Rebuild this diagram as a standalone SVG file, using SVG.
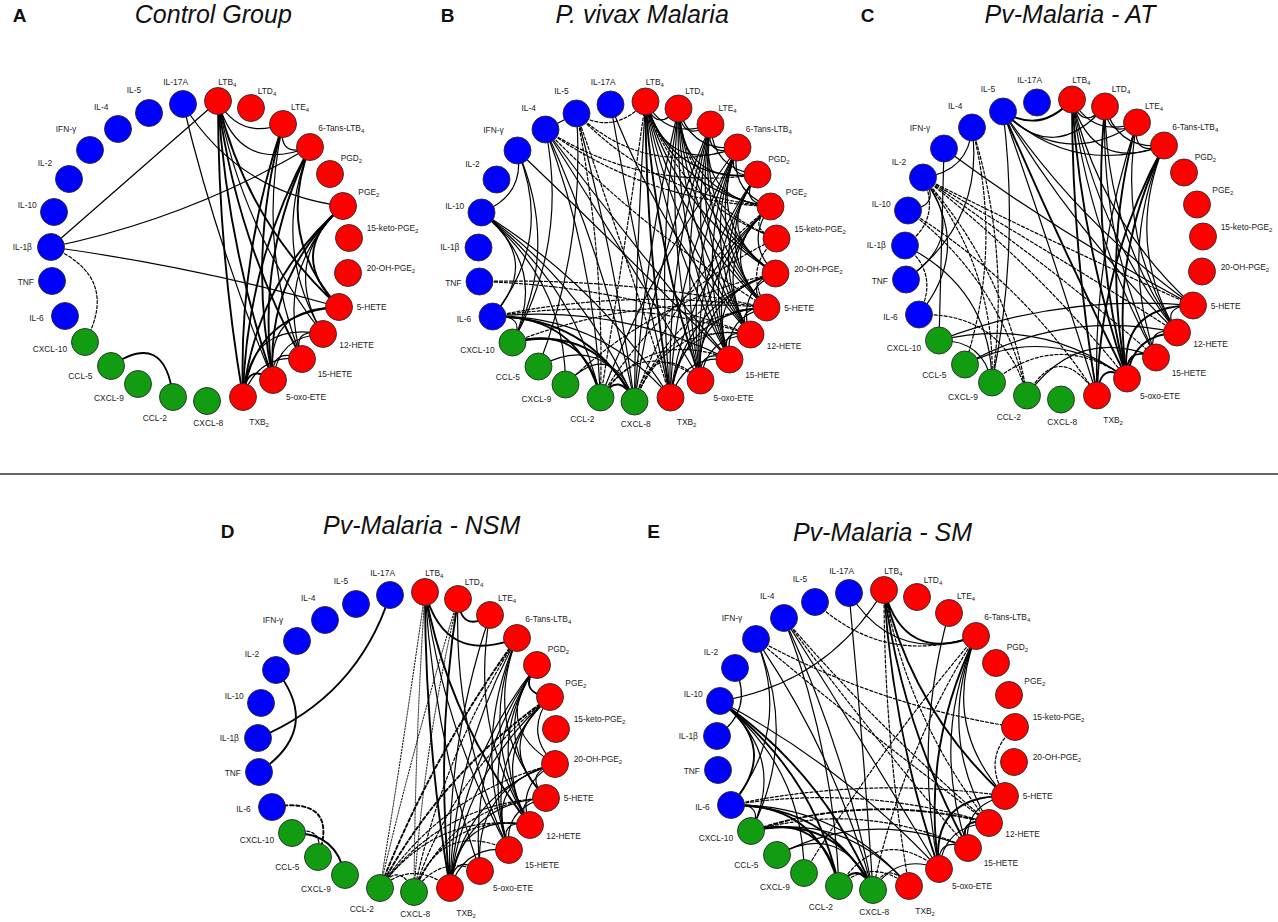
<svg xmlns="http://www.w3.org/2000/svg" width="1278" height="922" viewBox="0 0 1278 922">
<style>
.n circle{stroke:#2a2a2a;stroke-width:0.9}
.b circle{fill:#0000ff}
.r circle{fill:#ff0000}
.g circle{fill:#119c11}
.n text{font-family:"Liberation Sans",Arial,sans-serif;font-size:8.4px;fill:#222}
.s{font-size:6px}
.e path{fill:none;stroke:#000;stroke-width:1.2;stroke-linecap:round}
.e .t{stroke-width:1.9}
.e .d{stroke-dasharray:3 2}
.e .dot{stroke-dasharray:1.4 1.6;stroke-width:1}
.e .dt{stroke-dasharray:3.5 2.5;stroke-width:1.9}
.ti{font-family:"Liberation Sans",Arial,sans-serif;font-size:25px;font-style:italic;fill:#111;text-anchor:middle}
.lt{font-family:"Liberation Sans",Arial,sans-serif;font-size:19px;font-weight:bold;fill:#111}
</style>
<rect width="1278" height="922" fill="#fff"/>
<g id="titles">
<text class="lt" x="12.7" y="21.7">A</text>
<text class="ti" x="213.3" y="23.3">Control Group</text>
<text class="lt" x="440.7" y="21.7">B</text>
<text class="ti" x="642.2" y="23.3">P. vivax Malaria</text>
<text class="lt" x="860.7" y="21.7">C</text>
<text class="ti" x="1070" y="23.3">Pv-Malaria - AT</text>
<text class="lt" x="220.7" y="537.7">D</text>
<text class="ti" x="421.7" y="534">Pv-Malaria - NSM</text>
<text class="lt" x="647.3" y="537.7">E</text>
<text class="ti" x="882.5" y="541">Pv-Malaria - SM</text>
</g>
<line id="separator" x1="0" y1="474" x2="1278" y2="474" stroke="#333" stroke-width="1.6"/>

<g id="panelA">
<g id="A-connectors" class="e">
<path d="M51 247L218 101"/>
<path d="M51 247Q188 219 310 147"/>
<path d="M51 247Q197 267 339 307"/>
<path class="d" d="M51 247Q121 277 85 342"/>
<path d="M183 104Q238 193 343 206"/>
<path d="M183 104Q217 246 273 380"/>
<path d="M218 101Q240 140 283 124"/>
<path d="M218 101Q238 175 310 147"/>
<path class="t" d="M218 101Q218 250 243 397"/>
<path class="t" d="M218 101Q227 245 273 380"/>
<path class="t" d="M218 101Q236 238 302 359"/>
<path d="M218 101Q242 231 323 334"/>
<path class="t" d="M218 101Q247 223 339 307"/>
<path d="M283 124Q277 159 310 147"/>
<path class="t" d="M283 124Q238 257 243 397"/>
<path class="t" d="M283 124Q247 252 273 380"/>
<path d="M283 124Q256 245 302 359"/>
<path class="t" d="M310 147Q246 264 243 397"/>
<path class="t" d="M310 147Q255 259 273 380"/>
<path d="M310 147Q270 245 323 334"/>
<path class="t" d="M310 147Q275 237 339 307"/>
<path class="t" d="M343 206Q256 281 243 397"/>
<path class="t" d="M343 206Q265 276 273 380"/>
<path d="M343 206Q274 270 302 359"/>
<path d="M343 206Q280 262 323 334"/>
<path class="t" d="M343 206Q285 254 339 307"/>
<path class="t" d="M339 307Q255 312 243 397"/>
<path d="M339 307Q264 307 273 380"/>
<path d="M323 334Q250 320 243 397"/>
<path d="M323 334Q290 327 302 359"/>
<path d="M323 334Q278 336 273 380"/>
<path d="M302 359Q258 353 243 397"/>
<path d="M302 359Q270 346 273 380"/>
<path class="t" d="M273 380Q246 361 243 397"/>
<path class="t" d="M111 366Q165 329 173 397"/>
</g>
<g id="A-IL17A" class="n b"><circle cx="183" cy="104" r="13.5"/><text x="163.3" y="84.7">IL-17A</text></g>
<g id="A-LTB4" class="n r"><circle cx="218" cy="101" r="13.5"/><text x="218.3" y="84.7">LTB<tspan class="s" dy="2">4</tspan></text></g>
<g id="A-LTD4" class="n r"><circle cx="251" cy="108" r="13.5"/><text x="257.7" y="93.7">LTD<tspan class="s" dy="2">4</tspan></text></g>
<g id="A-LTE4" class="n r"><circle cx="283" cy="124" r="13.5"/><text x="291" y="110.3">LTE<tspan class="s" dy="2">4</tspan></text></g>
<g id="A-6TansLTB4" class="n r"><circle cx="310" cy="147" r="13.5"/><text x="318.3" y="131.3">6-Tans-LTB<tspan class="s" dy="2">4</tspan></text></g>
<g id="A-PGD2" class="n r"><circle cx="330" cy="174" r="13.5"/><text x="340.7" y="161.3">PGD<tspan class="s" dy="2">2</tspan></text></g>
<g id="A-PGE2" class="n r"><circle cx="343" cy="206" r="13.5"/><text x="358.3" y="194.7">PGE<tspan class="s" dy="2">2</tspan></text></g>
<g id="A-15ketoPGE2" class="n r"><circle cx="349" cy="238" r="13.5"/><text x="366.7" y="231.3">15-keto-PGE<tspan class="s" dy="2">2</tspan></text></g>
<g id="A-20OHPGE2" class="n r"><circle cx="348" cy="273" r="13.5"/><text x="366.7" y="271.3">20-OH-PGE<tspan class="s" dy="2">2</tspan></text></g>
<g id="A-5HETE" class="n r"><circle cx="339" cy="307" r="13.5"/><text x="356.7" y="310.3">5-HETE</text></g>
<g id="A-12HETE" class="n r"><circle cx="323" cy="334" r="13.5"/><text x="339.3" y="348">12-HETE</text></g>
<g id="A-15HETE" class="n r"><circle cx="302" cy="359" r="13.5"/><text x="317.7" y="377">15-HETE</text></g>
<g id="A-5oxoETE" class="n r"><circle cx="273" cy="380" r="13.5"/><text x="286" y="400.3">5-oxo-ETE</text></g>
<g id="A-TXB2" class="n r"><circle cx="243" cy="397" r="13.5"/><text x="249.3" y="424.7">TXB<tspan class="s" dy="2">2</tspan></text></g>
<g id="A-CXCL8" class="n g"><circle cx="207" cy="401" r="13.5"/><text x="193.3" y="426.3">CXCL-8</text></g>
<g id="A-CCL2" class="n g"><circle cx="173" cy="397" r="13.5"/><text x="142.7" y="421.3">CCL-2</text></g>
<g id="A-CXCL9" class="n g"><circle cx="138" cy="384" r="13.5"/><text x="94" y="401.3">CXCL-9</text></g>
<g id="A-CCL5" class="n g"><circle cx="111" cy="366" r="13.5"/><text x="68.3" y="379">CCL-5</text></g>
<g id="A-CXCL10" class="n g"><circle cx="85" cy="342" r="13.5"/><text x="32.7" y="352.3">CXCL-10</text></g>
<g id="A-IL6" class="n b"><circle cx="65" cy="316" r="13.5"/><text x="29.3" y="321.3">IL-6</text></g>
<g id="A-TNF" class="n b"><circle cx="52" cy="281" r="13.5"/><text x="17.7" y="285.3">TNF</text></g>
<g id="A-IL1b" class="n b"><circle cx="51" cy="247" r="13.5"/><text x="12.7" y="249.7">IL-1β</text></g>
<g id="A-IL10" class="n b"><circle cx="54" cy="212" r="13.5"/><text x="17.7" y="208.3">IL-10</text></g>
<g id="A-IL2" class="n b"><circle cx="69" cy="179" r="13.5"/><text x="37.7" y="166.3">IL-2</text></g>
<g id="A-IFNg" class="n b"><circle cx="90" cy="150" r="13.5"/><text x="55.7" y="132">IFN-γ</text></g>
<g id="A-IL4" class="n b"><circle cx="118" cy="129" r="13.5"/><text x="94" y="110.3">IL-4</text></g>
<g id="A-IL5" class="n b"><circle cx="149" cy="113" r="13.5"/><text x="126.7" y="93">IL-5</text></g>
</g>

<g id="panelB" transform="translate(427.5,0.5)">
<g id="B-connectors" class="e">
<path d="M149 113L118 129"/>
<path d="M149 113Q158 244 111 366"/>
<path d="M149 113Q187 255 207 401"/>
<path class="d" d="M149 113Q187 136 218 101"/>
<path class="d" d="M149 113Q218 178 310 147"/>
<path class="d" d="M149 113Q228 196 343 206"/>
<path class="d" d="M149 113Q177 253 173 397"/>
<path class="d" d="M149 113Q198 253 243 397"/>
<path d="M118 129Q141 242 85 342"/>
<path d="M118 129Q167 258 173 397"/>
<path d="M118 129Q178 259 207 401"/>
<path d="M118 129Q197 253 273 380"/>
<path d="M118 129Q206 247 302 359"/>
<path class="d" d="M118 129Q214 191 330 174"/>
<path class="d" d="M118 129Q218 201 343 206"/>
<path class="d" d="M118 129Q217 231 339 307"/>
<path d="M90 150Q98 195 54 212"/>
<path d="M90 150Q133 248 85 342"/>
<path d="M90 150Q127 240 65 316"/>
<path d="M90 150Q198 253 302 359"/>
<path d="M54 212Q122 267 85 342"/>
<path d="M54 212Q116 259 65 316"/>
<path d="M54 212Q148 283 173 397"/>
<path d="M54 212Q158 284 207 401"/>
<path d="M54 212Q169 283 243 397"/>
<path d="M54 212Q138 279 138 384"/>
<path class="d" d="M52 281Q193 285 323 334"/>
<path class="d" d="M52 281Q197 277 339 307"/>
<path class="t" d="M65 316Q162 316 207 401"/>
<path class="t" d="M65 316Q151 314 173 397"/>
<path d="M65 316Q172 314 243 397"/>
<path d="M65 316Q190 303 302 359"/>
<path class="d" d="M65 316Q196 295 323 334"/>
<path class="d" d="M65 316Q201 287 339 307"/>
<path d="M65 316Q100 313 85 342"/>
<path class="t" d="M85 342Q157 322 173 397"/>
<path class="t" d="M85 342Q168 323 207 401"/>
<path class="d" d="M85 342Q207 295 339 307"/>
<path d="M111 366Q175 331 207 401"/>
<path d="M138 384Q184 336 207 401"/>
<path class="t" d="M173 397Q192 369 207 401"/>
<path class="d" d="M207 401Q239 321 323 334"/>
<path class="d" d="M207 401Q244 313 339 307"/>
<path class="d" d="M207 401Q247 303 348 273"/>
<path class="d" d="M207 401Q245 283 343 206"/>
<path d="M207 401Q227 258 283 124"/>
<path d="M207 401Q217 253 251 108"/>
<path d="M207 401Q208 251 218 101"/>
<path class="d" d="M207 401Q224 335 273 380"/>
<path class="d" d="M173 397Q237 291 349 238"/>
<path class="d" d="M173 397Q223 327 302 359"/>
<path d="M173 397Q225 264 310 147"/>
<path class="d" d="M173 397Q197 250 218 101"/>
<path d="M183 104Q232 232 323 334"/>
<path d="M183 104Q208 251 243 397"/>
<path class="d" d="M138 384Q226 298 348 273"/>
<path d="M218 101Q228 134 251 108"/>
<path d="M218 101Q240 140 283 124"/>
<path d="M218 101Q238 175 310 147"/>
<path d="M218 101Q244 183 330 174"/>
<path d="M218 101Q248 193 343 206"/>
<path d="M218 101Q250 213 348 273"/>
<path d="M218 101Q247 223 339 307"/>
<path d="M218 101Q242 231 323 334"/>
<path d="M218 101Q236 238 302 359"/>
<path class="t" d="M218 101Q227 245 273 380"/>
<path class="t" d="M218 101Q218 250 243 397"/>
<path d="M251 108Q254 143 283 124"/>
<path d="M251 108Q264 152 310 147"/>
<path d="M251 108Q254 185 330 174"/>
<path d="M251 108Q258 195 343 206"/>
<path d="M251 108Q260 215 348 273"/>
<path d="M251 108Q257 225 339 307"/>
<path d="M251 108Q252 233 323 334"/>
<path d="M251 108Q246 241 302 359"/>
<path d="M251 108Q237 247 273 380"/>
<path d="M251 108Q228 252 243 397"/>
<path d="M283 124Q277 159 310 147"/>
<path d="M283 124Q285 169 330 174"/>
<path d="M283 124Q268 199 343 206"/>
<path d="M283 124Q269 220 348 273"/>
<path d="M283 124Q267 230 339 307"/>
<path d="M283 124Q262 238 323 334"/>
<path d="M283 124Q256 245 302 359"/>
<path d="M283 124Q247 252 273 380"/>
<path d="M283 124Q238 257 243 397"/>
<path d="M310 147Q296 179 330 174"/>
<path d="M310 147Q301 191 343 206"/>
<path d="M310 147Q277 226 348 273"/>
<path d="M310 147Q275 237 339 307"/>
<path d="M310 147Q270 245 323 334"/>
<path d="M310 147Q264 252 302 359"/>
<path d="M310 147Q255 259 273 380"/>
<path d="M310 147Q246 264 243 397"/>
<path d="M330 174Q309 202 343 206"/>
<path d="M330 174Q283 235 348 273"/>
<path d="M330 174Q281 245 339 307"/>
<path d="M330 174Q276 253 323 334"/>
<path d="M330 174Q270 260 302 359"/>
<path d="M330 174Q261 267 273 380"/>
<path d="M343 206Q316 242 348 273"/>
<path d="M343 206Q285 254 339 307"/>
<path d="M343 206Q280 262 323 334"/>
<path d="M343 206Q274 270 302 359"/>
<path d="M343 206Q265 276 273 380"/>
<path d="M343 206Q256 281 243 397"/>
<path class="d" d="M343 206Q317 228 349 238"/>
<path class="d" d="M349 238Q315 268 339 307"/>
<path class="d" d="M349 238Q260 204 251 108"/>
<path d="M348 273Q315 282 339 307"/>
<path d="M348 273Q308 293 323 334"/>
<path d="M348 273Q275 290 302 359"/>
<path d="M348 273Q266 296 273 380"/>
<path d="M348 273Q257 301 243 397"/>
<path d="M339 307Q305 307 323 334"/>
<path d="M339 307Q296 317 302 359"/>
<path d="M339 307Q264 307 273 380"/>
<path d="M339 307Q255 312 243 397"/>
<path d="M323 334Q290 327 302 359"/>
<path d="M323 334Q278 336 273 380"/>
<path d="M302 359Q270 346 273 380"/>
<path d="M302 359Q258 353 243 397"/>
<path class="d" d="M218 101Q250 202 349 238"/>
<path class="d" d="M243 397Q250 320 323 334"/>
<path class="d" d="M273 380Q214 334 173 397"/>
</g>
<g id="B-IL17A" class="n b"><circle cx="183" cy="104" r="13.5"/><text x="163.3" y="84.7">IL-17A</text></g>
<g id="B-LTB4" class="n r"><circle cx="218" cy="101" r="13.5"/><text x="218.3" y="84.7">LTB<tspan class="s" dy="2">4</tspan></text></g>
<g id="B-LTD4" class="n r"><circle cx="251" cy="108" r="13.5"/><text x="257.7" y="93.7">LTD<tspan class="s" dy="2">4</tspan></text></g>
<g id="B-LTE4" class="n r"><circle cx="283" cy="124" r="13.5"/><text x="291" y="110.3">LTE<tspan class="s" dy="2">4</tspan></text></g>
<g id="B-6TansLTB4" class="n r"><circle cx="310" cy="147" r="13.5"/><text x="318.3" y="131.3">6-Tans-LTB<tspan class="s" dy="2">4</tspan></text></g>
<g id="B-PGD2" class="n r"><circle cx="330" cy="174" r="13.5"/><text x="340.7" y="161.3">PGD<tspan class="s" dy="2">2</tspan></text></g>
<g id="B-PGE2" class="n r"><circle cx="343" cy="206" r="13.5"/><text x="358.3" y="194.7">PGE<tspan class="s" dy="2">2</tspan></text></g>
<g id="B-15ketoPGE2" class="n r"><circle cx="349" cy="238" r="13.5"/><text x="366.7" y="231.3">15-keto-PGE<tspan class="s" dy="2">2</tspan></text></g>
<g id="B-20OHPGE2" class="n r"><circle cx="348" cy="273" r="13.5"/><text x="366.7" y="271.3">20-OH-PGE<tspan class="s" dy="2">2</tspan></text></g>
<g id="B-5HETE" class="n r"><circle cx="339" cy="307" r="13.5"/><text x="356.7" y="310.3">5-HETE</text></g>
<g id="B-12HETE" class="n r"><circle cx="323" cy="334" r="13.5"/><text x="339.3" y="348">12-HETE</text></g>
<g id="B-15HETE" class="n r"><circle cx="302" cy="359" r="13.5"/><text x="317.7" y="377">15-HETE</text></g>
<g id="B-5oxoETE" class="n r"><circle cx="273" cy="380" r="13.5"/><text x="286" y="400.3">5-oxo-ETE</text></g>
<g id="B-TXB2" class="n r"><circle cx="243" cy="397" r="13.5"/><text x="249.3" y="424.7">TXB<tspan class="s" dy="2">2</tspan></text></g>
<g id="B-CXCL8" class="n g"><circle cx="207" cy="401" r="13.5"/><text x="193.3" y="426.3">CXCL-8</text></g>
<g id="B-CCL2" class="n g"><circle cx="173" cy="397" r="13.5"/><text x="142.7" y="421.3">CCL-2</text></g>
<g id="B-CXCL9" class="n g"><circle cx="138" cy="384" r="13.5"/><text x="94" y="401.3">CXCL-9</text></g>
<g id="B-CCL5" class="n g"><circle cx="111" cy="366" r="13.5"/><text x="68.3" y="379">CCL-5</text></g>
<g id="B-CXCL10" class="n g"><circle cx="85" cy="342" r="13.5"/><text x="32.7" y="352.3">CXCL-10</text></g>
<g id="B-IL6" class="n b"><circle cx="65" cy="316" r="13.5"/><text x="29.3" y="321.3">IL-6</text></g>
<g id="B-TNF" class="n b"><circle cx="52" cy="281" r="13.5"/><text x="17.7" y="285.3">TNF</text></g>
<g id="B-IL1b" class="n b"><circle cx="51" cy="247" r="13.5"/><text x="12.7" y="249.7">IL-1β</text></g>
<g id="B-IL10" class="n b"><circle cx="54" cy="212" r="13.5"/><text x="17.7" y="208.3">IL-10</text></g>
<g id="B-IL2" class="n b"><circle cx="69" cy="179" r="13.5"/><text x="37.7" y="166.3">IL-2</text></g>
<g id="B-IFNg" class="n b"><circle cx="90" cy="150" r="13.5"/><text x="55.7" y="132">IFN-γ</text></g>
<g id="B-IL4" class="n b"><circle cx="118" cy="129" r="13.5"/><text x="94" y="110.3">IL-4</text></g>
<g id="B-IL5" class="n b"><circle cx="149" cy="113" r="13.5"/><text x="126.7" y="93">IL-5</text></g>
</g>

<g id="panelC" transform="translate(854,-1.5)">
<g id="C-connectors" class="e">
<path class="t" d="M149 113Q187 136 218 101"/>
<path d="M149 113Q210 172 283 124"/>
<path d="M149 113Q218 178 310 147"/>
<path d="M149 113Q200 167 251 108"/>
<path d="M149 113Q226 226 339 307"/>
<path d="M149 113Q222 235 323 334"/>
<path class="t" d="M149 113Q207 248 273 380"/>
<path d="M149 113Q198 253 243 397"/>
<path d="M149 113Q166 250 138 384"/>
<path d="M118 129Q115 173 69 179"/>
<path class="d" d="M118 129Q149 249 111 366"/>
<path class="d" d="M118 129Q157 254 138 384"/>
<path d="M90 150L85 342"/>
<path d="M90 150Q209 238 339 307"/>
<path d="M69 179Q116 238 52 281"/>
<path d="M69 179Q89 207 54 212"/>
<path d="M69 179Q120 249 65 316"/>
<path class="d" d="M69 179Q202 246 339 307"/>
<path class="d" d="M69 179Q198 254 323 334"/>
<path class="d" d="M69 179Q191 262 302 359"/>
<path class="d" d="M69 179Q183 268 273 380"/>
<path class="d" d="M69 179Q88 221 51 247"/>
<path class="d" d="M69 179Q142 269 138 384"/>
<path class="d" d="M69 179Q153 273 173 397"/>
<path class="d" d="M54 212Q148 283 173 397"/>
<path class="d" d="M54 212Q169 283 243 397"/>
<path d="M51 247Q137 290 138 384"/>
<path class="d" d="M51 247Q86 275 65 316"/>
<path d="M52 281Q131 223 118 129"/>
<path class="d" d="M65 316Q151 314 173 397"/>
<path d="M85 342Q207 295 339 307"/>
<path d="M85 342Q187 317 273 380"/>
<path d="M85 342Q129 341 138 384"/>
<path d="M111 366Q195 324 273 380"/>
<path d="M111 366Q210 310 323 334"/>
<path class="d" d="M138 384Q203 330 273 380"/>
<path d="M173 397Q223 327 302 359"/>
<path class="d" d="M173 397Q205 339 243 397"/>
<path d="M218 101Q228 134 251 108"/>
<path d="M218 101Q240 140 283 124"/>
<path d="M218 101Q238 175 310 147"/>
<path class="t" d="M218 101Q218 250 243 397"/>
<path class="t" d="M218 101Q227 245 273 380"/>
<path d="M218 101Q236 238 302 359"/>
<path d="M218 101Q242 231 323 334"/>
<path d="M218 101Q247 223 339 307"/>
<path d="M251 108Q254 143 283 124"/>
<path d="M251 108Q264 152 310 147"/>
<path class="t" d="M251 108Q237 247 273 380"/>
<path d="M251 108Q252 233 323 334"/>
<path d="M251 108Q246 241 302 359"/>
<path d="M283 124Q277 159 310 147"/>
<path class="t" d="M283 124Q247 252 273 380"/>
<path d="M283 124Q238 257 243 397"/>
<path d="M283 124Q262 238 323 334"/>
<path class="t" d="M310 147Q255 259 273 380"/>
<path d="M310 147Q270 245 323 334"/>
<path d="M310 147Q264 252 302 359"/>
<path class="t" d="M310 147Q246 264 243 397"/>
<path class="t" d="M339 307Q264 307 273 380"/>
<path d="M339 307Q305 307 323 334"/>
<path d="M323 334Q290 327 302 359"/>
<path class="t" d="M323 334Q278 336 273 380"/>
<path class="t" d="M302 359Q270 346 273 380"/>
<path class="t" d="M273 380Q246 361 243 397"/>
</g>
<g id="C-IL17A" class="n b"><circle cx="183" cy="104" r="13.5"/><text x="163.3" y="84.7">IL-17A</text></g>
<g id="C-LTB4" class="n r"><circle cx="218" cy="101" r="13.5"/><text x="218.3" y="84.7">LTB<tspan class="s" dy="2">4</tspan></text></g>
<g id="C-LTD4" class="n r"><circle cx="251" cy="108" r="13.5"/><text x="257.7" y="93.7">LTD<tspan class="s" dy="2">4</tspan></text></g>
<g id="C-LTE4" class="n r"><circle cx="283" cy="124" r="13.5"/><text x="291" y="110.3">LTE<tspan class="s" dy="2">4</tspan></text></g>
<g id="C-6TansLTB4" class="n r"><circle cx="310" cy="147" r="13.5"/><text x="318.3" y="131.3">6-Tans-LTB<tspan class="s" dy="2">4</tspan></text></g>
<g id="C-PGD2" class="n r"><circle cx="330" cy="174" r="13.5"/><text x="340.7" y="161.3">PGD<tspan class="s" dy="2">2</tspan></text></g>
<g id="C-PGE2" class="n r"><circle cx="343" cy="206" r="13.5"/><text x="358.3" y="194.7">PGE<tspan class="s" dy="2">2</tspan></text></g>
<g id="C-15ketoPGE2" class="n r"><circle cx="349" cy="238" r="13.5"/><text x="366.7" y="231.3">15-keto-PGE<tspan class="s" dy="2">2</tspan></text></g>
<g id="C-20OHPGE2" class="n r"><circle cx="348" cy="273" r="13.5"/><text x="366.7" y="271.3">20-OH-PGE<tspan class="s" dy="2">2</tspan></text></g>
<g id="C-5HETE" class="n r"><circle cx="339" cy="307" r="13.5"/><text x="356.7" y="310.3">5-HETE</text></g>
<g id="C-12HETE" class="n r"><circle cx="323" cy="334" r="13.5"/><text x="339.3" y="348">12-HETE</text></g>
<g id="C-15HETE" class="n r"><circle cx="302" cy="359" r="13.5"/><text x="317.7" y="377">15-HETE</text></g>
<g id="C-5oxoETE" class="n r"><circle cx="273" cy="380" r="13.5"/><text x="286" y="400.3">5-oxo-ETE</text></g>
<g id="C-TXB2" class="n r"><circle cx="243" cy="397" r="13.5"/><text x="249.3" y="424.7">TXB<tspan class="s" dy="2">2</tspan></text></g>
<g id="C-CXCL8" class="n g"><circle cx="207" cy="401" r="13.5"/><text x="193.3" y="426.3">CXCL-8</text></g>
<g id="C-CCL2" class="n g"><circle cx="173" cy="397" r="13.5"/><text x="142.7" y="421.3">CCL-2</text></g>
<g id="C-CXCL9" class="n g"><circle cx="138" cy="384" r="13.5"/><text x="94" y="401.3">CXCL-9</text></g>
<g id="C-CCL5" class="n g"><circle cx="111" cy="366" r="13.5"/><text x="68.3" y="379">CCL-5</text></g>
<g id="C-CXCL10" class="n g"><circle cx="85" cy="342" r="13.5"/><text x="32.7" y="352.3">CXCL-10</text></g>
<g id="C-IL6" class="n b"><circle cx="65" cy="316" r="13.5"/><text x="29.3" y="321.3">IL-6</text></g>
<g id="C-TNF" class="n b"><circle cx="52" cy="281" r="13.5"/><text x="17.7" y="285.3">TNF</text></g>
<g id="C-IL1b" class="n b"><circle cx="51" cy="247" r="13.5"/><text x="12.7" y="249.7">IL-1β</text></g>
<g id="C-IL10" class="n b"><circle cx="54" cy="212" r="13.5"/><text x="17.7" y="208.3">IL-10</text></g>
<g id="C-IL2" class="n b"><circle cx="69" cy="179" r="13.5"/><text x="37.7" y="166.3">IL-2</text></g>
<g id="C-IFNg" class="n b"><circle cx="90" cy="150" r="13.5"/><text x="55.7" y="132">IFN-γ</text></g>
<g id="C-IL4" class="n b"><circle cx="118" cy="129" r="13.5"/><text x="94" y="110.3">IL-4</text></g>
<g id="C-IL5" class="n b"><circle cx="149" cy="113" r="13.5"/><text x="126.7" y="93">IL-5</text></g>
</g>

<g id="panelD" transform="translate(207,491)">
<g id="D-connectors" class="e">
<path class="t" d="M183 104Q150 206 51 247"/>
<path class="t" d="M69 179Q116 238 52 281"/>
<path class="dt" d="M65 316Q133 305 111 366"/>
<path class="t" d="M85 342Q129 341 138 384"/>
<path class="d" d="M85 342Q118 333 111 366"/>
<path class="dot" d="M218 101Q197 250 173 397"/>
<path class="dot" d="M218 101Q208 251 207 401"/>
<path class="dot" d="M251 108Q207 252 173 397"/>
<path class="dot" d="M251 108Q217 253 207 401"/>
<path class="t" d="M218 101Q238 175 310 147"/>
<path class="t" d="M218 101Q218 250 243 397"/>
<path d="M218 101Q227 245 273 380"/>
<path d="M218 101Q236 238 302 359"/>
<path class="t" d="M218 101Q242 231 323 334"/>
<path class="t" d="M251 108Q254 143 283 124"/>
<path class="t" d="M251 108Q228 252 243 397"/>
<path d="M251 108Q246 241 302 359"/>
<path d="M283 124Q262 238 323 334"/>
<path d="M283 124Q238 257 243 397"/>
<path class="dt" d="M310 147Q225 264 173 397"/>
<path d="M310 147Q246 264 243 397"/>
<path d="M310 147Q264 252 302 359"/>
<path d="M310 147Q270 245 323 334"/>
<path d="M310 147Q275 237 339 307"/>
<path class="d" d="M310 147Q235 265 207 401"/>
<path class="t" d="M330 174Q309 202 343 206"/>
<path d="M330 174Q252 272 243 397"/>
<path d="M330 174Q261 267 273 380"/>
<path d="M330 174Q270 260 302 359"/>
<path d="M330 174Q276 253 323 334"/>
<path d="M330 174Q281 245 339 307"/>
<path d="M330 174Q283 235 348 273"/>
<path d="M343 206Q316 242 348 273"/>
<path d="M343 206Q285 254 339 307"/>
<path d="M343 206Q280 262 323 334"/>
<path d="M343 206Q274 270 302 359"/>
<path d="M343 206Q256 281 243 397"/>
<path class="dt" d="M343 206Q235 281 173 397"/>
<path class="d" d="M343 206Q245 283 207 401"/>
<path d="M348 273Q315 282 339 307"/>
<path d="M348 273Q308 293 323 334"/>
<path d="M348 273Q275 290 302 359"/>
<path d="M348 273Q257 301 243 397"/>
<path d="M348 273Q266 296 273 380"/>
<path class="d" d="M348 273Q236 301 173 397"/>
<path d="M339 307Q296 317 302 359"/>
<path d="M339 307Q255 312 243 397"/>
<path class="d" d="M339 307Q244 313 207 401"/>
<path class="d" d="M339 307Q234 312 173 397"/>
<path d="M339 307Q305 307 323 334"/>
<path d="M323 334Q290 327 302 359"/>
<path d="M323 334Q250 320 243 397"/>
<path class="d" d="M323 334Q239 321 207 401"/>
<path class="d" d="M323 334Q229 320 173 397"/>
<path d="M302 359Q258 353 243 397"/>
<path class="d" d="M302 359Q233 328 207 401"/>
<path d="M273 380Q246 361 243 397"/>
<path class="d" d="M273 380Q232 363 207 401"/>
<path class="d" d="M243 397Q206 368 173 397"/>
<path class="d" d="M173 397Q192 369 207 401"/>
</g>
<g id="D-IL17A" class="n b"><circle cx="183" cy="104" r="13.5"/><text x="163.3" y="84.7">IL-17A</text></g>
<g id="D-LTB4" class="n r"><circle cx="218" cy="101" r="13.5"/><text x="218.3" y="84.7">LTB<tspan class="s" dy="2">4</tspan></text></g>
<g id="D-LTD4" class="n r"><circle cx="251" cy="108" r="13.5"/><text x="257.7" y="93.7">LTD<tspan class="s" dy="2">4</tspan></text></g>
<g id="D-LTE4" class="n r"><circle cx="283" cy="124" r="13.5"/><text x="291" y="110.3">LTE<tspan class="s" dy="2">4</tspan></text></g>
<g id="D-6TansLTB4" class="n r"><circle cx="310" cy="147" r="13.5"/><text x="318.3" y="131.3">6-Tans-LTB<tspan class="s" dy="2">4</tspan></text></g>
<g id="D-PGD2" class="n r"><circle cx="330" cy="174" r="13.5"/><text x="340.7" y="161.3">PGD<tspan class="s" dy="2">2</tspan></text></g>
<g id="D-PGE2" class="n r"><circle cx="343" cy="206" r="13.5"/><text x="358.3" y="194.7">PGE<tspan class="s" dy="2">2</tspan></text></g>
<g id="D-15ketoPGE2" class="n r"><circle cx="349" cy="238" r="13.5"/><text x="366.7" y="231.3">15-keto-PGE<tspan class="s" dy="2">2</tspan></text></g>
<g id="D-20OHPGE2" class="n r"><circle cx="348" cy="273" r="13.5"/><text x="366.7" y="271.3">20-OH-PGE<tspan class="s" dy="2">2</tspan></text></g>
<g id="D-5HETE" class="n r"><circle cx="339" cy="307" r="13.5"/><text x="356.7" y="310.3">5-HETE</text></g>
<g id="D-12HETE" class="n r"><circle cx="323" cy="334" r="13.5"/><text x="339.3" y="348">12-HETE</text></g>
<g id="D-15HETE" class="n r"><circle cx="302" cy="359" r="13.5"/><text x="317.7" y="377">15-HETE</text></g>
<g id="D-5oxoETE" class="n r"><circle cx="273" cy="380" r="13.5"/><text x="286" y="400.3">5-oxo-ETE</text></g>
<g id="D-TXB2" class="n r"><circle cx="243" cy="397" r="13.5"/><text x="249.3" y="424.7">TXB<tspan class="s" dy="2">2</tspan></text></g>
<g id="D-CXCL8" class="n g"><circle cx="207" cy="401" r="13.5"/><text x="193.3" y="426.3">CXCL-8</text></g>
<g id="D-CCL2" class="n g"><circle cx="173" cy="397" r="13.5"/><text x="142.7" y="421.3">CCL-2</text></g>
<g id="D-CXCL9" class="n g"><circle cx="138" cy="384" r="13.5"/><text x="94" y="401.3">CXCL-9</text></g>
<g id="D-CCL5" class="n g"><circle cx="111" cy="366" r="13.5"/><text x="68.3" y="379">CCL-5</text></g>
<g id="D-CXCL10" class="n g"><circle cx="85" cy="342" r="13.5"/><text x="32.7" y="352.3">CXCL-10</text></g>
<g id="D-IL6" class="n b"><circle cx="65" cy="316" r="13.5"/><text x="29.3" y="321.3">IL-6</text></g>
<g id="D-TNF" class="n b"><circle cx="52" cy="281" r="13.5"/><text x="17.7" y="285.3">TNF</text></g>
<g id="D-IL1b" class="n b"><circle cx="51" cy="247" r="13.5"/><text x="12.7" y="249.7">IL-1β</text></g>
<g id="D-IL10" class="n b"><circle cx="54" cy="212" r="13.5"/><text x="17.7" y="208.3">IL-10</text></g>
<g id="D-IL2" class="n b"><circle cx="69" cy="179" r="13.5"/><text x="37.7" y="166.3">IL-2</text></g>
<g id="D-IFNg" class="n b"><circle cx="90" cy="150" r="13.5"/><text x="55.7" y="132">IFN-γ</text></g>
<g id="D-IL4" class="n b"><circle cx="118" cy="129" r="13.5"/><text x="94" y="110.3">IL-4</text></g>
<g id="D-IL5" class="n b"><circle cx="149" cy="113" r="13.5"/><text x="126.7" y="93">IL-5</text></g>
</g>

<g id="panelE" transform="translate(666,489)">
<g id="E-connectors" class="e">
<path class="d" d="M149 113Q218 178 310 147"/>
<path d="M183 104Q228 176 310 147"/>
<path d="M183 104Q197 252 207 401"/>
<path d="M118 129Q178 259 207 401"/>
<path d="M118 129Q167 258 173 397"/>
<path d="M118 129Q197 253 273 380"/>
<path class="d" d="M118 129Q206 247 302 359"/>
<path class="d" d="M118 129Q212 239 323 334"/>
<path d="M90 150Q133 248 85 342"/>
<path d="M90 150Q127 240 65 316"/>
<path d="M90 150Q169 266 207 401"/>
<path class="d" d="M90 150Q204 246 323 334"/>
<path class="d" d="M90 150Q212 217 349 238"/>
<path d="M69 179Q88 221 51 247"/>
<path d="M54 212Q162 194 218 101"/>
<path class="t" d="M54 212Q116 259 65 316"/>
<path d="M54 212Q122 267 85 342"/>
<path class="t" d="M54 212Q148 283 173 397"/>
<path class="t" d="M54 212Q158 284 207 401"/>
<path d="M54 212Q178 278 273 380"/>
<path d="M54 212Q138 279 138 384"/>
<path d="M65 316Q100 313 85 342"/>
<path class="t" d="M65 316Q151 314 173 397"/>
<path class="t" d="M65 316Q162 316 207 401"/>
<path d="M65 316Q172 314 243 397"/>
<path class="d" d="M65 316Q196 295 323 334"/>
<path class="d" d="M65 316Q201 287 339 307"/>
<path class="t" d="M85 342Q157 322 173 397"/>
<path class="t" d="M85 342Q168 323 207 401"/>
<path class="dt" d="M85 342Q202 303 323 334"/>
<path class="d" d="M85 342Q196 311 302 359"/>
<path d="M85 342Q178 322 243 397"/>
<path d="M111 366Q204 318 302 359"/>
<path d="M111 366Q175 331 207 401"/>
<path class="d" d="M138 384Q214 260 310 147"/>
<path class="t" d="M173 397Q192 369 207 401"/>
<path class="d" d="M173 397Q214 334 273 380"/>
<path class="d" d="M173 397Q206 368 243 397"/>
<path d="M207 401Q232 363 273 380"/>
<path class="d" d="M207 401Q220 369 243 397"/>
<path class="t" d="M218 101Q238 175 310 147"/>
<path class="t" d="M218 101Q247 223 339 307"/>
<path class="t" d="M218 101Q227 245 273 380"/>
<path class="t" d="M218 101Q236 238 302 359"/>
<path class="d" d="M218 101Q242 231 323 334"/>
<path class="d" d="M218 101Q218 250 243 397"/>
<path d="M283 124Q247 252 273 380"/>
<path d="M310 147Q275 237 339 307"/>
<path d="M310 147Q270 245 323 334"/>
<path d="M310 147Q264 252 302 359"/>
<path class="t" d="M310 147Q255 259 273 380"/>
<path class="d" d="M310 147Q235 265 207 401"/>
<path class="d" d="M349 238Q315 268 339 307"/>
<path class="t" d="M339 307Q264 307 273 380"/>
<path d="M339 307Q296 317 302 359"/>
<path d="M323 334Q278 336 273 380"/>
<path d="M302 359Q270 346 273 380"/>
<path class="t" d="M323 334Q290 327 302 359"/>
</g>
<g id="E-IL17A" class="n b"><circle cx="183" cy="104" r="13.5"/><text x="163.3" y="84.7">IL-17A</text></g>
<g id="E-LTB4" class="n r"><circle cx="218" cy="101" r="13.5"/><text x="218.3" y="84.7">LTB<tspan class="s" dy="2">4</tspan></text></g>
<g id="E-LTD4" class="n r"><circle cx="251" cy="108" r="13.5"/><text x="257.7" y="93.7">LTD<tspan class="s" dy="2">4</tspan></text></g>
<g id="E-LTE4" class="n r"><circle cx="283" cy="124" r="13.5"/><text x="291" y="110.3">LTE<tspan class="s" dy="2">4</tspan></text></g>
<g id="E-6TansLTB4" class="n r"><circle cx="310" cy="147" r="13.5"/><text x="318.3" y="131.3">6-Tans-LTB<tspan class="s" dy="2">4</tspan></text></g>
<g id="E-PGD2" class="n r"><circle cx="330" cy="174" r="13.5"/><text x="340.7" y="161.3">PGD<tspan class="s" dy="2">2</tspan></text></g>
<g id="E-PGE2" class="n r"><circle cx="343" cy="206" r="13.5"/><text x="358.3" y="194.7">PGE<tspan class="s" dy="2">2</tspan></text></g>
<g id="E-15ketoPGE2" class="n r"><circle cx="349" cy="238" r="13.5"/><text x="366.7" y="231.3">15-keto-PGE<tspan class="s" dy="2">2</tspan></text></g>
<g id="E-20OHPGE2" class="n r"><circle cx="348" cy="273" r="13.5"/><text x="366.7" y="271.3">20-OH-PGE<tspan class="s" dy="2">2</tspan></text></g>
<g id="E-5HETE" class="n r"><circle cx="339" cy="307" r="13.5"/><text x="356.7" y="310.3">5-HETE</text></g>
<g id="E-12HETE" class="n r"><circle cx="323" cy="334" r="13.5"/><text x="339.3" y="348">12-HETE</text></g>
<g id="E-15HETE" class="n r"><circle cx="302" cy="359" r="13.5"/><text x="317.7" y="377">15-HETE</text></g>
<g id="E-5oxoETE" class="n r"><circle cx="273" cy="380" r="13.5"/><text x="286" y="400.3">5-oxo-ETE</text></g>
<g id="E-TXB2" class="n r"><circle cx="243" cy="397" r="13.5"/><text x="249.3" y="424.7">TXB<tspan class="s" dy="2">2</tspan></text></g>
<g id="E-CXCL8" class="n g"><circle cx="207" cy="401" r="13.5"/><text x="193.3" y="426.3">CXCL-8</text></g>
<g id="E-CCL2" class="n g"><circle cx="173" cy="397" r="13.5"/><text x="142.7" y="421.3">CCL-2</text></g>
<g id="E-CXCL9" class="n g"><circle cx="138" cy="384" r="13.5"/><text x="94" y="401.3">CXCL-9</text></g>
<g id="E-CCL5" class="n g"><circle cx="111" cy="366" r="13.5"/><text x="68.3" y="379">CCL-5</text></g>
<g id="E-CXCL10" class="n g"><circle cx="85" cy="342" r="13.5"/><text x="32.7" y="352.3">CXCL-10</text></g>
<g id="E-IL6" class="n b"><circle cx="65" cy="316" r="13.5"/><text x="29.3" y="321.3">IL-6</text></g>
<g id="E-TNF" class="n b"><circle cx="52" cy="281" r="13.5"/><text x="17.7" y="285.3">TNF</text></g>
<g id="E-IL1b" class="n b"><circle cx="51" cy="247" r="13.5"/><text x="12.7" y="249.7">IL-1β</text></g>
<g id="E-IL10" class="n b"><circle cx="54" cy="212" r="13.5"/><text x="17.7" y="208.3">IL-10</text></g>
<g id="E-IL2" class="n b"><circle cx="69" cy="179" r="13.5"/><text x="37.7" y="166.3">IL-2</text></g>
<g id="E-IFNg" class="n b"><circle cx="90" cy="150" r="13.5"/><text x="55.7" y="132">IFN-γ</text></g>
<g id="E-IL4" class="n b"><circle cx="118" cy="129" r="13.5"/><text x="94" y="110.3">IL-4</text></g>
<g id="E-IL5" class="n b"><circle cx="149" cy="113" r="13.5"/><text x="126.7" y="93">IL-5</text></g>
</g>
</svg>
